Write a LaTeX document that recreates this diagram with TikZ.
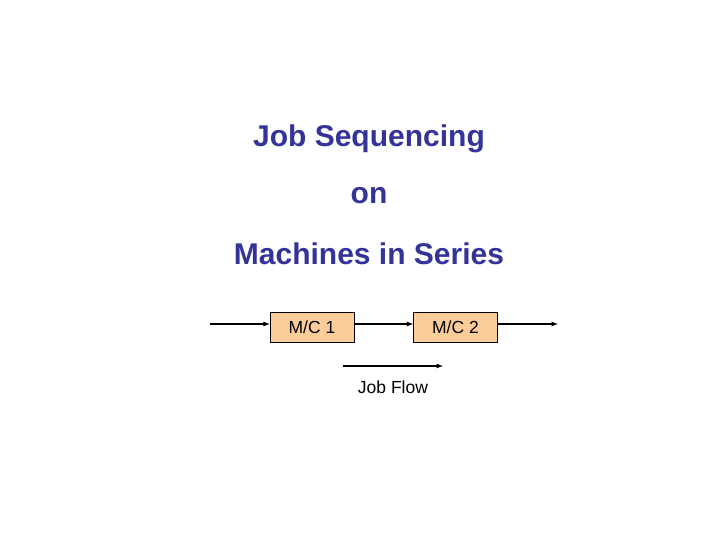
\documentclass[tikz,border=0pt]{standalone}
\usepackage{fontspec}
\setmainfont{Liberation Sans}
\definecolor{ttl}{RGB}{51,51,153}
\definecolor{boxfill}{RGB}{252,204,153}
\begin{document}
\begin{tikzpicture}[x=1pt,y=-1pt,
 title/.style={text=ttl,font=\fontsize{30}{34}\selectfont\bfseries,inner sep=0},
 mc/.style={draw=black,fill=boxfill,minimum width=84pt,minimum height=30pt,font=\fontsize{17.5}{20}\selectfont,inner sep=0},
 flow/.style={draw,line width=1.2pt,-latex}]
\useasboundingbox (0,0) rectangle (720,540);
\node[title] (t1) at (369,139) {Job Sequencing};
\node[title] (t2) at (369,196) {on};
\node[title] (t3) at (369,254) {Machines in Series};
\node[mc] (m1) at (312,327) {M/C 1};
\node[mc] (m2) at (455.5,327) {M/C 2};
\coordinate (in) at (210,324);
\coordinate (out) at (558,324);
\draw[flow] (in) -- (in -| m1.west);
\draw[flow] (m1.east |- in) -- (m2.west |- in);
\draw[flow] (m2.east |- in) -- (out);
\coordinate (f1) at (343,366);
\coordinate (f2) at (443,366);
\draw[flow] (f1) -- (f2);
\node[font=\fontsize{17.5}{20}\selectfont] (jf) at (393,387) {Job Flow};
\end{tikzpicture}
\end{document}
